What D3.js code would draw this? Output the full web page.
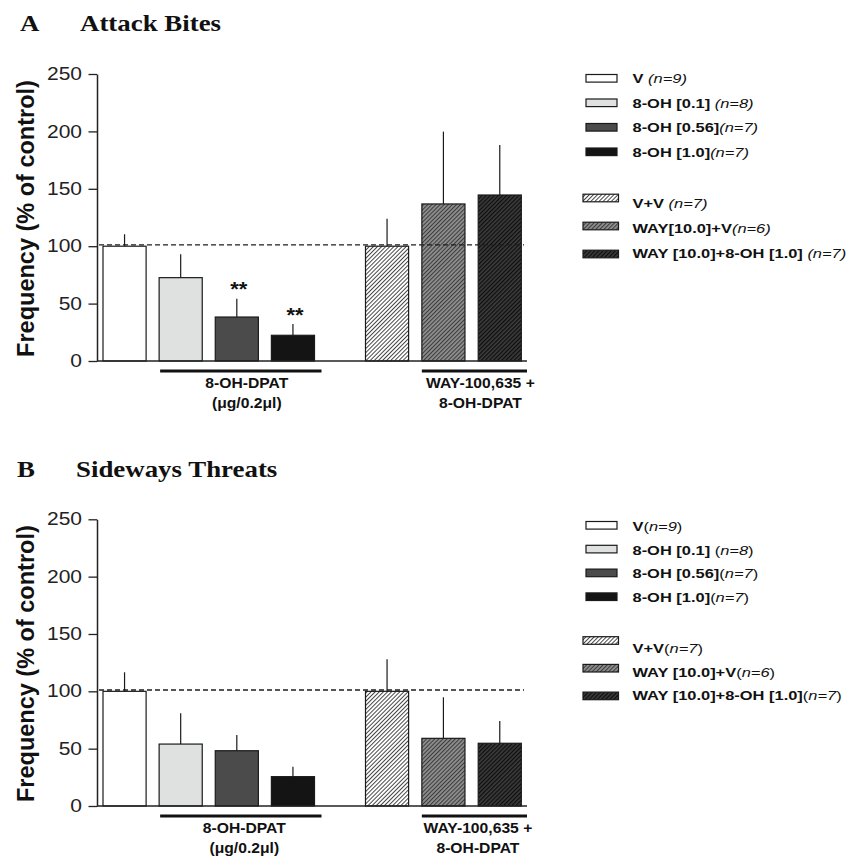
<!DOCTYPE html>
<html><head><meta charset="utf-8">
<script src="https://cdn.jsdelivr.net/npm/d3@7"></script>
<style>body{margin:0;background:#fff} svg{display:block} text{white-space:pre}</style>
</head><body><svg id="c" width="854" height="860"></svg>
<script>
// ---------- data ----------
const categories = ["V", "8-OH [0.1]", "8-OH [0.56]", "8-OH [1.0]", "V+V", "WAY [10.0]+V", "WAY [10.0]+8-OH [1.0]"];
const group1 = categories.slice(0, 4);
const group2 = categories.slice(4);
const attackMeans = [100, 72.6, 38.3, 22.4, 100, 136.8, 144.6];
const attackSEM = [10.4, 20.4, 16.0, 9.8, 24.0, 63.0, 43.6];
const attackSig = ["", "", "**", "**", "", "", ""];
const sidewaysMeans = [100, 54.0, 48.2, 25.6, 100, 59.0, 54.7];
const sidewaysSEM = [16.6, 26.8, 13.7, 8.7, 27.9, 35.8, 19.4];
const sidewaysSig = ["", "", "", "", "", "", ""];
const yTicks = [0, 50, 100, 150, 200, 250];
const controlLevel = 100;
const attackLegendMain = ["V ", "8-OH [0.1] ", "8-OH [0.56]", "8-OH [1.0]", "V+V ", "WAY[10.0]+V", "WAY [10.0]+8-OH [1.0] "];
const attackLegendN = ["n=9", "n=8", "n=7", "n=7", "n=7", "n=6", "n=7"];
const sidewaysLegendMain = ["V", "8-OH [0.1] ", "8-OH [0.56]", "8-OH [1.0]", "V+V", "WAY [10.0]+V", "WAY [10.0]+8-OH [1.0]"];
const sidewaysLegendN = ["n=9", "n=8", "n=7", "n=7", "n=7", "n=6", "n=7"];
const group1Label = ["8-OH-DPAT", "(\u03bcg/0.2\u03bcl)"];
const group2Label = ["WAY-100,635 +", "8-OH-DPAT"];
const yTitle = "Frequency (% of control)";

// ---------- styles ----------
const SANS = "'Liberation Sans', Arial, Helvetica, sans-serif";
const SERIF = "'Liberation Serif', 'Times New Roman', serif";
const fills = ["#ffffff", "#dfe0e0", "#4b4b4b", "#141414", "url(#hatch0)", "url(#hatch1)", "url(#hatch2)"];

const svg = d3.select("#c");
const defs = svg.append("defs");
const hatchDefs = [
  {bg: "#ffffff", fg: "#333333", w: 0.9},
  {bg: "#8e8e8e", fg: "#3c3c3c", w: 1.1},
  {bg: "#3c3c3c", fg: "#0c0c0c", w: 1.4}
];
hatchDefs.forEach((h, i) => {
  const p = defs.append("pattern").attr("id", "hatch" + i)
    .attr("patternUnits", "userSpaceOnUse").attr("width", 2.9).attr("height", 2.9)
    .attr("patternTransform", "rotate(45)");
  p.append("rect").attr("width", 2.9).attr("height", 2.9).attr("fill", h.bg);
  p.append("line").attr("x1", 0.5).attr("y1", 0).attr("x2", 0.5).attr("y2", 2.9)
    .attr("stroke", h.fg).attr("stroke-width", h.w);
});

function stretchedText(g, x, y, sx) {
  return g.append("g").attr("transform", `translate(${x},${y}) scale(${sx},1)`).append("text");
}

const xs1 = d3.scaleBand().domain(group1).range([103, 314.5]).paddingInner(0.232).paddingOuter(0);
const xs2 = d3.scaleBand().domain(group2).range([365.5, 521.5]).paddingInner(0.232).paddingOuter(0);
const xOf = c => group1.includes(c) ? xs1(c) : xs2(c);
const bw = xs1.bandwidth();
const axisX = 97, axisEnd = 527;

const panels = [
  {letter: "A", title: "Attack Bites", means: attackMeans, sems: attackSEM, sig: attackSig,
   main: attackLegendMain, n: attackLegendN, italicParens: true,
   zeroY: 361, topY: 74, titleY: 31, letterX: 20, titleX: 80, labelShift: 6,
   lg: {s0: 78.3, sStep: 24.5, sText: 5, h0: 198, hStep: 28, t0: 208.3, tStep: 25}},
  {letter: "B", title: "Sideways Threats", means: sidewaysMeans, sems: sidewaysSEM, sig: sidewaysSig,
   main: sidewaysLegendMain, n: sidewaysLegendN, italicParens: false,
   zeroY: 806, topY: 519.3, titleY: 476.7, letterX: 17, titleX: 76, labelShift: 3.5,
   lg: {s0: 525.3, sStep: 23.8, sText: 5.4, h0: 640.5, hStep: 27.7, t0: 653.3, tStep: 23.3}}
];

panels.forEach(P => {
  const g = svg.append("g");
  const y = d3.scaleLinear().domain([0, 250]).range([P.zeroY, P.topY]);

  // titles
  stretchedText(g, P.letterX, P.titleY, 1.12).text(P.letter)
    .attr("font-family", SERIF).attr("font-weight", "bold").attr("font-size", 24).attr("fill", "#111");
  stretchedText(g, P.titleX, P.titleY, 1.12).text(P.title)
    .attr("font-family", SERIF).attr("font-weight", "bold").attr("font-size", 24).attr("fill", "#111");

  // y axis title
  g.append("text").attr("transform", `translate(33.5,${(P.zeroY + P.topY) / 2 + 1}) rotate(-90)`)
    .attr("text-anchor", "middle").attr("font-family", SANS).attr("font-weight", "bold")
    .attr("font-size", 23.5).attr("fill", "#111").text(yTitle);

  // bars
  const bars = g.append("g");
  categories.forEach((c, i) => {
    bars.append("rect").attr("x", xOf(c)).attr("width", bw)
      .attr("y", y(P.means[i])).attr("height", y(0) - y(P.means[i]))
      .attr("fill", fills[i]).attr("stroke", "#1a1a1a").attr("stroke-width", 1.2);
    bars.append("line").attr("x1", xOf(c) + bw / 2).attr("x2", xOf(c) + bw / 2)
      .attr("y1", y(P.means[i])).attr("y2", y(P.means[i] + P.sems[i]))
      .attr("stroke", "#1a1a1a").attr("stroke-width", 1.2);
    if (P.sig[i]) {
      stretchedText(bars, xOf(c) + bw / 2 + 2, y(P.means[i] + P.sems[i]) - 2.5, 1.1)
        .attr("text-anchor", "middle").attr("font-family", SANS).attr("font-weight", "bold")
        .attr("font-size", 20).attr("fill", "#111").text(P.sig[i]);
    }
  });

  // control dashed line
  g.append("line").attr("x1", axisX + 2).attr("x2", 524)
    .attr("y1", y(controlLevel) - 1.3).attr("y2", y(controlLevel) - 1.3)
    .attr("stroke", "#1e1e1e").attr("stroke-width", 1.3).attr("stroke-dasharray", "5,3");

  // axes
  const ax = g.append("g").attr("transform", `translate(${axisX},0)`)
    .call(d3.axisLeft(y).tickValues(yTicks).tickSize(8.5).tickSizeOuter(0).tickPadding(6.5));
  ax.select(".domain").attr("stroke", "#222").attr("stroke-width", 1.5);
  ax.selectAll(".tick line").attr("stroke", "#222").attr("stroke-width", 1.3);
  ax.selectAll(".tick text").attr("font-family", SANS).attr("font-size", 17.5).attr("fill", "#222")
    .attr("x", -15 / 1.2).attr("transform", "scale(1.2,1)");
  g.append("line").attr("x1", axisX).attr("x2", axisEnd).attr("y1", y(0)).attr("y2", y(0))
    .attr("stroke", "#222").attr("stroke-width", 1.5);

  // group brackets
  const g1a = xs1(group1[1]) + 1, g1b = xs1(group1[3]) + bw + 7;
  const g2a = xs2(group2[1]), g2b = axisEnd;
  [[g1a, g1b, group1Label], [g2a, g2b, group2Label]].forEach(([a, b, lab]) => {
    g.append("line").attr("x1", a).attr("x2", b).attr("y1", y(0) + 10).attr("y2", y(0) + 10)
      .attr("stroke", "#111").attr("stroke-width", 3);
    lab.forEach((t, k) => {
      stretchedText(g, (a + b) / 2 + P.labelShift, y(0) + 27.3 + k * 20, 1.12)
        .attr("text-anchor", "middle").attr("font-family", SANS).attr("font-weight", "bold")
        .attr("font-size", 14).attr("fill", "#111").text(t);
    });
  });

  // legend
  const L = P.lg;
  categories.forEach((c, i) => {
    const hatched = i >= 4;
    const k = hatched ? i - 4 : i;
    const sc = hatched ? L.h0 + k * L.hStep : L.s0 + k * L.sStep;
    const ty = hatched ? L.t0 + k * L.tStep : sc + L.sText;
    g.append("rect").attr("x", hatched ? 583 : 586).attr("width", hatched ? 35.5 : 31)
      .attr("y", sc - 3.8).attr("height", 7.6)
      .attr("fill", fills[i]).attr("stroke", "#1a1a1a").attr("stroke-width", 1.2);
    const t = stretchedText(g, 632.5, ty, 1.2).attr("font-family", SANS).attr("font-size", 13.7).attr("fill", "#111");
    t.append("tspan").attr("font-weight", "bold").text(P.main[i]);
    if (P.italicParens) {
      t.append("tspan").attr("font-style", "italic").text("(" + P.n[i] + ")");
    } else {
      t.append("tspan").text("(");
      t.append("tspan").attr("font-style", "italic").text(P.n[i]);
      t.append("tspan").text(")");
    }
  });
});
</script></body></html>
